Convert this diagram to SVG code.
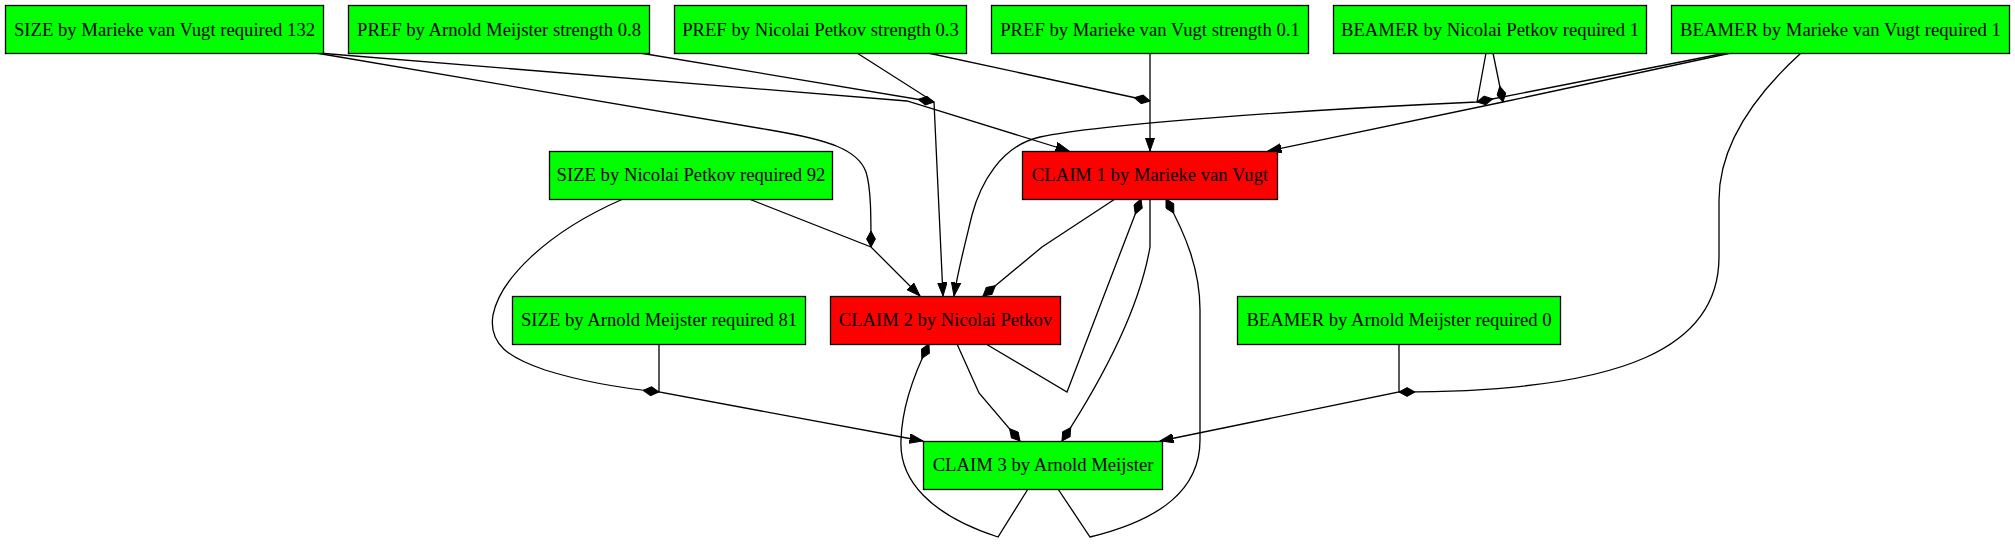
<svg xmlns="http://www.w3.org/2000/svg" width="2015" height="544" viewBox="0 0 2015 544">
<style>
.n rect{stroke:#000;stroke-width:1.3}
.g rect{fill:#00ff00}
.r rect{fill:#ff0000}
.n text{font-family:"Liberation Serif","Times New Roman",serif;font-size:18.67px;fill:#000;text-anchor:middle}
#edges path{fill:none;stroke:#000;stroke-width:1.3}
</style>
<defs>
<marker id="arrow" viewBox="0 0 14 10" refX="13.5" refY="5" markerWidth="14" markerHeight="10" markerUnits="userSpaceOnUse" orient="auto"><path d="M0,0.3 L13.5,5 L0,9.7 z" fill="#000" stroke="#000" stroke-width="1"/></marker>
<marker id="diamond" viewBox="0 0 17 10" refX="16.5" refY="5" markerWidth="17" markerHeight="10" markerUnits="userSpaceOnUse" orient="auto"><path d="M0.5,5 L8.5,0.6 L16.5,5 L8.5,9.4 z" fill="#000" stroke="#000" stroke-width="1"/></marker>
</defs>
<rect width="2015" height="544" fill="#fff"/>
<g id="edges">
<path d="M640,53 L934,102" marker-end="url(#diamond)"/>
<path d="M318,53 L907,101 L1069,151" marker-end="url(#arrow)"/>
<path d="M316,53 L770,130 C830,140 858,150 866,172 C871,188 871,215 871,247" marker-end="url(#diamond)"/>
<path d="M749,199 L871,247 L920,296" marker-end="url(#arrow)"/>
<path d="M857,53 L934,102 L943,296" marker-end="url(#arrow)"/>
<path d="M928,53 L1150,101" marker-end="url(#diamond)"/>
<path d="M1150,53 L1150,151" marker-end="url(#arrow)"/>
<path d="M1486,53 L1477,102 C1300,110 1100,124 1040,137 C1000,146 980,185 972,215 C966,240 958,270 954,296" marker-end="url(#arrow)"/>
<path d="M1726,53 L1477,102" marker-end="url(#diamond)"/>
<path d="M1731,53 L1503,102 L1268,151" marker-end="url(#arrow)"/>
<path d="M1493,53 L1503,102" marker-end="url(#diamond)"/>
<path d="M1801,53 C1755,95 1719,145 1719,200 L1719,257 C1719,345 1630,392 1399,392" marker-end="url(#diamond)"/>
<path d="M1399,344 L1399,392 L1160,441" marker-end="url(#arrow)"/>
<path d="M659,344 L659,392 L923,441" marker-end="url(#arrow)"/>
<path d="M623,199 C545,233 500,280 493,315 C488,345 510,358 545,370 C580,381 620,388 659,392" marker-end="url(#diamond)"/>
<path d="M1115,199 L1042,247 L983,296" marker-end="url(#diamond)"/>
<path d="M1150,199 L1150,247 C1140,305 1105,375 1062,441" marker-end="url(#diamond)"/>
<path d="M957,344 L979,393 L1020,441" marker-end="url(#diamond)"/>
<path d="M986,344 L1067,392 L1141,199" marker-end="url(#diamond)"/>
<path d="M1028,489 L998,537 C930,515 899,480 901,440 C902,405 915,372 929,344" marker-end="url(#diamond)"/>
<path d="M1058,489 L1090,537 C1160,520 1200,490 1200,440 L1200,310 C1200,270 1186,235 1166,199" marker-end="url(#diamond)"/>
</g>
<g id="size_mvv" class="n g"><rect x="5.5" y="5.5" width="318" height="48"/><text x="164.5" y="35.5">SIZE by Marieke van Vugt required 132</text></g>
<g id="pref_am" class="n g"><rect x="348.5" y="5.5" width="301" height="48"/><text x="499" y="35.5">PREF by Arnold Meijster strength 0.8</text></g>
<g id="pref_np" class="n g"><rect x="674.5" y="5.5" width="292" height="48"/><text x="820.5" y="35.5">PREF by Nicolai Petkov strength 0.3</text></g>
<g id="pref_mvv" class="n g"><rect x="991.5" y="5.5" width="317" height="48"/><text x="1150" y="35.5">PREF by Marieke van Vugt strength 0.1</text></g>
<g id="beamer_np" class="n g"><rect x="1333.5" y="5.5" width="313" height="48"/><text x="1490" y="35.5">BEAMER by Nicolai Petkov required 1</text></g>
<g id="beamer_mvv" class="n g"><rect x="1671.5" y="5.5" width="338" height="48"/><text x="1840.5" y="35.5">BEAMER by Marieke van Vugt required 1</text></g>
<g id="size_np" class="n g"><rect x="549.5" y="151.5" width="283" height="48"/><text x="691" y="181">SIZE by Nicolai Petkov required 92</text></g>
<g id="claim1" class="n r"><rect x="1022.5" y="151.5" width="255" height="48"/><text x="1150" y="181">CLAIM 1 by Marieke van Vugt</text></g>
<g id="size_am" class="n g"><rect x="512.5" y="296.5" width="293" height="48"/><text x="659" y="326">SIZE by Arnold Meijster required 81</text></g>
<g id="claim2" class="n r"><rect x="830.5" y="296.5" width="230" height="48"/><text x="945.5" y="326">CLAIM 2 by Nicolai Petkov</text></g>
<g id="beamer_am" class="n g"><rect x="1237.5" y="296.5" width="323" height="48"/><text x="1399" y="326">BEAMER by Arnold Meijster required 0</text></g>
<g id="claim3" class="n g"><rect x="923.5" y="441.5" width="239" height="48"/><text x="1043" y="471">CLAIM 3 by Arnold Meijster</text></g>
</svg>
